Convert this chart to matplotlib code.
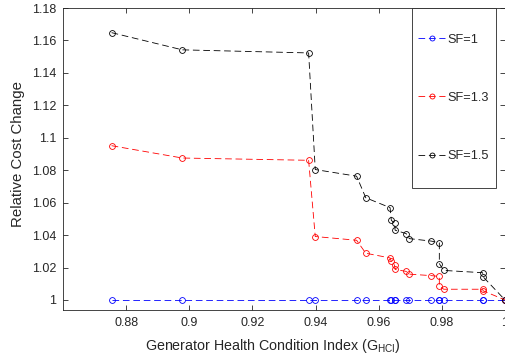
import numpy as np
import matplotlib
matplotlib.use('Agg')
import matplotlib.pyplot as plt
from matplotlib.ticker import FuncFormatter
from matplotlib.patches import Rectangle

plt.rcParams['font.family'] = ['Liberation Sans', 'DejaVu Sans']
plt.rcParams['mathtext.fontset'] = 'custom'
plt.rcParams['mathtext.rm'] = 'Liberation Sans'

# generator health condition index (shared by all series)
g_hci = [0.8754, 0.8978, 0.9378, 0.9399, 0.9530, 0.9559, 0.9636, 0.9640,
         0.9650, 0.9652, 0.9687, 0.9697, 0.9766, 0.9792, 0.9792, 0.9806,
         0.9929, 0.9931, 1.0]

sf1 = [1.0] * 19
sf13 = [1.0951, 1.0875, 1.0861, 1.0391, 1.0368, 1.0288, 1.0259, 1.0238,
        1.0215, 1.0188, 1.0176, 1.0159, 1.0150, 1.0145, 1.0086, 1.0066,
        1.0066, 1.0056, 1.0]
sf15 = [1.1648, 1.1542, 1.1523, 1.0804, 1.0763, 1.0630, 1.0569, 1.0490,
        1.0475, 1.0430, 1.0409, 1.0378, 1.0363, 1.0352, 1.0224, 1.0182,
        1.0168, 1.0142, 1.0]

labels = ['SF=1', 'SF=1.3', 'SF=1.5']
colors = ['#0000ff', '#ff0000', '#000000']

fig = plt.figure(figsize=(5.06, 3.6), dpi=100)
ax = fig.add_axes([63/506, 1-310/360, 442/506, 302/360])

for ys, lab, c in zip([sf1, sf13, sf15], labels, colors):
    ax.plot(g_hci, ys, linestyle=(0, (8, 4.5)), color=c, lw=0.6,
            marker='o', markersize=4.2, markerfacecolor='none',
            markeredgewidth=0.6, label=lab)

ax.set_xlim(0.86, 1.0)
ax.set_ylim(0.9938, 1.18)
ax.set_xticks([0.88, 0.9, 0.92, 0.94, 0.96, 0.98, 1.0])
ax.set_yticks(np.arange(1.0, 1.1801, 0.02))
fmt = FuncFormatter(lambda v, p: ('%.2f' % v).rstrip('0').rstrip('.'))
ax.xaxis.set_major_formatter(fmt)
ax.yaxis.set_major_formatter(fmt)

axc = '#262626'
ax.tick_params(direction='in', top=True, right=True, length=3.5, width=0.6,
               labelsize=9, colors=axc, pad=5)
for s in ax.spines.values():
    s.set_linewidth(0.6)
    s.set_color(axc)

ax.set_xlabel('Generator Health Condition Index (G$_{\\mathregular{HCI}}$)',
              fontsize=10.3, color=axc)
ax.xaxis.set_label_coords(0.474, -0.089)
ax.set_ylabel('Relative Cost Change', fontsize=10.8, color=axc)
ax.yaxis.set_label_coords(-0.085, 0.517)

# legend box (MATLAB style: tall box with widely spaced entries)
ax.add_patch(Rectangle((0.789, 0.405), 0.979 - 0.789, 0.595,
                       transform=ax.transAxes, facecolor='white',
                       edgecolor=axc, lw=0.6, zorder=4))
leg = ax.legend(loc='upper left', bbox_to_anchor=(0.804, 0.915),
                borderaxespad=0, borderpad=0, fontsize=9.2, labelspacing=3.62,
                handlelength=2.1, handletextpad=0.2, markerscale=0.85,
                frameon=False)
leg.set_zorder(5)
for t in leg.get_texts():
    t.set_color(axc)

fig.savefig('out.png', dpi=100)
